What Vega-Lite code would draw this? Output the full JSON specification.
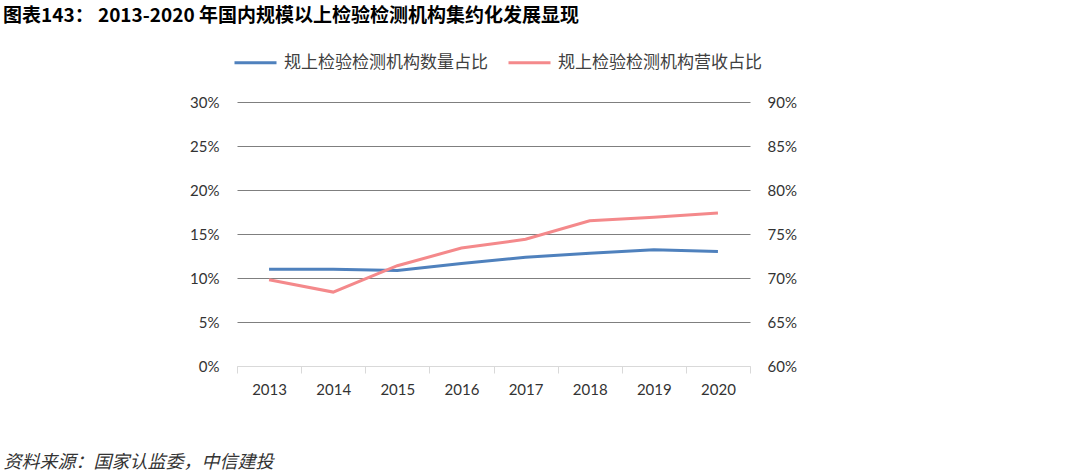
{
  "$schema": "https://vega.github.io/schema/vega-lite/v6.json",
  "autosize": {"type": "none"},
  "width": 513,
  "height": 264,
  "padding": {"left": 237, "top": 102, "right": 330, "bottom": 107},
  "background": "white",
  "title": {
    "text": "图表143：  2013-2020 年国内规模以上检验检测机构集约化发展显现",
    "anchor": "start",
    "frame": "group",
    "orient": "top",
    "dx": -234,
    "offset": 14,
    "font": "Noto Sans CJK SC",
    "fontSize": 19,
    "fontWeight": "bold",
    "color": "#000000"
  },
  "config": {
    "view": {"stroke": null},
    "font": "Lato",
    "axis": {
      "labelFont": "Lato",
      "labelFontSize": 15,
      "labelColor": "#333333",
      "titleFont": "Noto Sans CJK SC"
    },
    "legend": {
      "labelFont": "Noto Sans CJK SC",
      "labelFontSize": 17,
      "labelColor": "#404040",
      "labelLimit": 0
    }
  },
  "data": {
    "values": [
      {"year": "2013", "series": "规上检验检测机构数量占比", "value": 0.110},
      {"year": "2014", "series": "规上检验检测机构数量占比", "value": 0.110},
      {"year": "2015", "series": "规上检验检测机构数量占比", "value": 0.1085},
      {"year": "2016", "series": "规上检验检测机构数量占比", "value": 0.1165},
      {"year": "2017", "series": "规上检验检测机构数量占比", "value": 0.1235},
      {"year": "2018", "series": "规上检验检测机构数量占比", "value": 0.128},
      {"year": "2019", "series": "规上检验检测机构数量占比", "value": 0.132},
      {"year": "2020", "series": "规上检验检测机构数量占比", "value": 0.130},
      {"year": "2013", "series": "规上检验检测机构营收占比", "value": 0.698},
      {"year": "2014", "series": "规上检验检测机构营收占比", "value": 0.684},
      {"year": "2015", "series": "规上检验检测机构营收占比", "value": 0.714},
      {"year": "2016", "series": "规上检验检测机构营收占比", "value": 0.734},
      {"year": "2017", "series": "规上检验检测机构营收占比", "value": 0.744},
      {"year": "2018", "series": "规上检验检测机构营收占比", "value": 0.765},
      {"year": "2019", "series": "规上检验检测机构营收占比", "value": 0.769},
      {"year": "2020", "series": "规上检验检测机构营收占比", "value": 0.774}
    ]
  },
  "encoding": {
    "x": {
      "field": "year",
      "type": "ordinal",
      "bandPosition": 0.5,
      "scale": {"type": "band", "paddingInner": 0, "paddingOuter": 0},
      "axis": {
        "labelAngle": 0,
        "domainColor": "#d9d9d9",
        "tickColor": "#d9d9d9",
        "tickSize": 7,
        "tickBand": "extent",
        "labelPadding": 9,
        "grid": false,
        "title": "资料来源：国家认监委，中信建投",
        "titleX": -234,
        "titleY": 96,
        "titleAlign": "left",
        "titleBaseline": "middle",
        "titleFont": "Noto Sans CJK SC",
        "titleFontSize": 18,
        "titleFontStyle": "italic",
        "titleFontWeight": "normal",
        "titleColor": "#333333"
      }
    },
    "color": {
      "field": "series",
      "type": "nominal",
      "scale": {
        "domain": ["规上检验检测机构数量占比", "规上检验检测机构营收占比"],
        "range": ["#4f81bd", "#f4898b"]
      },
      "legend": {
        "title": null,
        "orient": "none",
        "legendX": -4,
        "legendY": -62,
        "direction": "horizontal",
        "symbolType": "stroke",
        "symbolSize": 1764,
        "symbolStrokeWidth": 3,
        "labelOffset": 6,
        "columnPadding": 14
      }
    }
  },
  "layer": [
    {
      "transform": [{"filter": "datum.series === '规上检验检测机构数量占比'"}],
      "mark": {"type": "line", "strokeWidth": 3},
      "encoding": {
        "y": {
          "field": "value",
          "type": "quantitative",
          "scale": {"domain": [0, 0.3], "nice": false},
          "axis": {
            "orient": "left",
            "title": null,
            "format": ".0%",
            "values": [0, 0.05, 0.1, 0.15, 0.2, 0.25, 0.3],
            "domain": false,
            "ticks": false,
            "labelPadding": 18,
            "grid": true,
            "gridColor": {"condition": {"test": "datum.value === 0", "value": "#d9d9d9"}, "value": "#7f7f7f"},
            "gridWidth": 1
          }
        }
      }
    },
    {
      "transform": [{"filter": "datum.series === '规上检验检测机构营收占比'"}],
      "mark": {"type": "line", "strokeWidth": 3},
      "encoding": {
        "y": {
          "field": "value",
          "type": "quantitative",
          "scale": {"domain": [0.6, 0.9], "nice": false},
          "axis": {
            "orient": "right",
            "title": null,
            "format": ".0%",
            "values": [0.6, 0.65, 0.7, 0.75, 0.8, 0.85, 0.9],
            "domain": false,
            "ticks": false,
            "labelPadding": 17,
            "grid": false
          }
        }
      }
    }
  ],
  "resolve": {"scale": {"y": "independent"}}
}
